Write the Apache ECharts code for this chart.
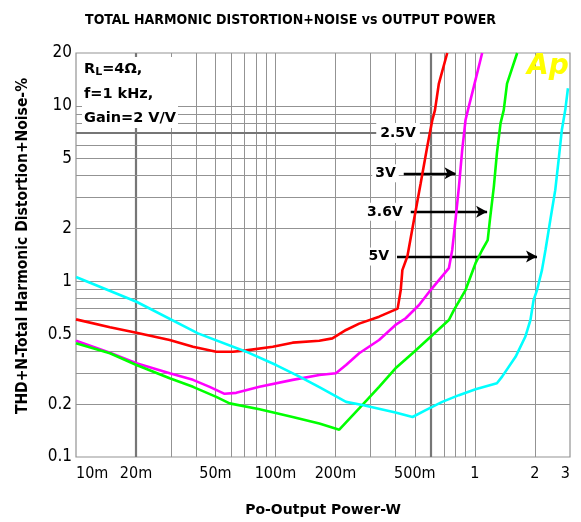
<!DOCTYPE html>
<html>
<head>
<meta charset="utf-8">
<script src="https://cdn.jsdelivr.net/npm/echarts@6/dist/echarts.min.js"></script>
<style>
  html, body { margin: 0; padding: 0; background: #fff; }
  #chart { width: 581px; height: 522px; }
</style>
</head>
<body>
<div id="chart"></div>
<script>
// THD+N (%) versus output power (W), RL = 4 ohm, f = 1 kHz, gain = 2 V/V

// Supply 2.5 V
const power_2v5 = [0.01, 0.0148, 0.0201, 0.0295, 0.0386, 0.0505, 0.0612, 0.0713, 0.097, 0.122, 0.166, 0.193, 0.226, 0.263, 0.331, 0.41, 0.425, 0.433, 0.459, 0.495, 0.535, 0.577, 0.612, 0.631, 0.66, 0.727];
const thdn_2v5  = [0.608, 0.548, 0.51, 0.464, 0.425, 0.398, 0.398, 0.405, 0.425, 0.448, 0.459, 0.474, 0.529, 0.575, 0.63, 0.70, 0.893, 1.16, 1.39, 2.24, 3.62, 5.85, 8.3, 9.46, 13.4, 20];

// Supply 3 V
const power_3v = [0.01, 0.0148, 0.0201, 0.0295, 0.0386, 0.0468, 0.0556, 0.0636, 0.0832, 0.122, 0.166, 0.201, 0.226, 0.263, 0.331, 0.40, 0.45, 0.525, 0.60, 0.741, 0.77, 0.80, 0.832, 0.864, 0.898, 0.923, 0.989, 1.088];
const thdn_3v  = [0.459, 0.392, 0.342, 0.30, 0.275, 0.251, 0.229, 0.232, 0.251, 0.275, 0.293, 0.30, 0.334, 0.39, 0.464, 0.565, 0.617, 0.734, 0.893, 1.19, 1.51, 2.24, 3.46, 5.6, 8.3, 9.46, 12.9, 20];

// Supply 3.6 V
const power_3v6 = [0.01, 0.0148, 0.0201, 0.0295, 0.0386, 0.0505, 0.0589, 0.0832, 0.122, 0.166, 0.209, 0.263, 0.331, 0.40, 0.487, 0.60, 0.741, 0.785, 0.898, 1.008, 1.088, 1.16, 1.19, 1.245, 1.29, 1.345, 1.396, 1.45, 1.63];
const thdn_3v6  = [0.444, 0.39, 0.334, 0.281, 0.251, 0.22, 0.202, 0.187, 0.169, 0.155, 0.143, 0.189, 0.251, 0.32, 0.39, 0.484, 0.603, 0.687, 0.893, 1.27, 1.51, 1.72, 2.24, 3.46, 5.36, 7.95, 9.46, 13.4, 20];

// Supply 5 V
const power_5v = [0.01, 0.0201, 0.0409, 0.0713, 0.1008, 0.132, 0.166, 0.226, 0.273, 0.40, 0.487, 0.567, 0.686, 0.832, 1.008, 1.29, 1.37, 1.60, 1.79, 1.90, 1.97, 2.05, 2.17, 2.26, 2.39, 2.53, 2.63, 2.73, 2.84, 2.93];
const thdn_5v  = [1.06, 0.766, 0.506, 0.398, 0.334, 0.287, 0.250, 0.206, 0.198, 0.179, 0.169, 0.185, 0.206, 0.225, 0.243, 0.263, 0.287, 0.372, 0.484, 0.603, 0.783, 0.893, 1.16, 1.51, 2.24, 3.31, 4.91, 7.28, 9.46, 12.6];

// Axis ticks and labels
const xTicks = [0.01, 0.02, 0.05, 0.1, 0.2, 0.5, 1, 2, 3];
const xTickLabels = ['10m', '20m', '50m', '100m', '200m', '500m', '1', '2', '3'];
const yTicks = [0.1, 0.2, 0.5, 1, 2, 5, 10, 20];
const yTickLabels = ['0.1', '0.2', '0.5', '1', '2', '5', '10', '20'];

// Log grid lines (1-2-...-9 per decade), with heavier reference lines
const xGridLines = [0.02, 0.03, 0.04, 0.05, 0.06, 0.07, 0.08, 0.09, 0.1, 0.2, 0.3, 0.4, 0.5, 0.6, 0.7, 0.8, 0.9, 1, 2];
const yGridLines = [0.2, 0.3, 0.4, 0.5, 0.6, 0.7, 0.8, 0.9, 1, 2, 3, 4, 5, 6, 7, 8, 9, 10];
const xHeavy = [0.02, 0.6];
const yHeavy = [7];

// Supply-voltage callouts: label, arrow start/end power, THD+N level
const callouts = [
  { text: '3V',   from: 0.44,  to: 0.80, level: 4.13 },
  { text: '3.6V', from: 0.477, to: 1.152, level: 2.49 },
  { text: '5V',   from: 0.407, to: 2.05, level: 1.386 }
];
const tagOnly = { text: '2.5V', at: 0.412, level: 7.0 };

const narrow = '"DejaVu Sans Condensed", "Liberation Sans Narrow", "DejaVu Sans", sans-serif';
const boldFace = '"DejaVu Sans", Verdana, sans-serif';

function zip(xs, ys) { return xs.map((x, i) => [x, ys[i]]); }
function lookup(ticks, labels, v) {
  const i = ticks.findIndex(t => Math.abs(t - v) / t < 1e-6);
  return i < 0 ? '' : labels[i];
}

const gridStyle = { color: '#939393', width: 1, type: 'solid' };
const heavyStyle = { color: '#767676', width: 2.2, type: 'solid' };

const gridMarks = [];
xGridLines.forEach(v => gridMarks.push({ xAxis: v, lineStyle: xHeavy.includes(v) ? heavyStyle : gridStyle }));
yGridLines.forEach(v => gridMarks.push({ yAxis: v, lineStyle: yHeavy.includes(v) ? heavyStyle : gridStyle }));

function curve(name, color, xs, ys) {
  return {
    name, type: 'line', data: zip(xs, ys), z: 5,
    showSymbol: false, symbol: 'none', smooth: false,
    lineStyle: { color, width: 2.6 }, itemStyle: { color },
    clip: true, silent: true
  };
}

const chart = echarts.init(document.getElementById('chart'), null, { renderer: 'canvas' });

chart.setOption({
  animation: false,
  backgroundColor: '#fff',
  title: {
    text: 'TOTAL HARMONIC DISTORTION+NOISE vs OUTPUT POWER',
    left: 'center', top: 8,
    textStyle: { fontFamily: narrow, fontWeight: 'bold', fontSize: 14, color: '#000' }
  },
  grid: {
    left: 76, right: 11, top: 53, bottom: 65,
    show: true, borderColor: '#939393', borderWidth: 1.2, backgroundColor: '#fff'
  },
  xAxis: {
    type: 'log', logBase: 10, min: 0.01, max: 3,
    axisLine: { show: false }, axisTick: { show: false }, splitLine: { show: false },
    axisLabel: {
      customValues: xTicks,
      formatter: v => lookup(xTicks, xTickLabels, v),
      alignMinLabel: 'left', alignMaxLabel: 'right',
      fontFamily: narrow, fontSize: 16, color: '#000', margin: 9
    },
    name: 'Po-Output Power-W', nameLocation: 'middle', nameGap: 46,
    nameTextStyle: { fontFamily: boldFace, fontWeight: 'bold', fontSize: 14, color: '#000' }
  },
  yAxis: {
    type: 'log', logBase: 10, min: 0.1, max: 20,
    axisLine: { show: false }, axisTick: { show: false }, splitLine: { show: false },
    axisLabel: {
      customValues: yTicks,
      formatter: v => lookup(yTicks, yTickLabels, v),
      fontFamily: narrow, fontSize: 17, color: '#000', margin: 4
    },
    name: 'THD+N-Total Harmonic Distortion+Noise-%', nameLocation: 'middle', nameGap: 45,
    nameTextStyle: { fontFamily: narrow, fontWeight: 'bold', fontSize: 15.5, color: '#000', padding: [0, 0, 0, 18] }
  },
  series: [
    {
      name: 'grid', type: 'line', data: [], z: 1, silent: true,
      markLine: { silent: true, symbol: ['none', 'none'], label: { show: false }, data: gridMarks, animation: false }
    },
    curve('2.5V', '#ff0000', power_2v5, thdn_2v5),
    curve('3V', '#ff00ff', power_3v, thdn_3v),
    curve('3.6V', '#00ff00', power_3v6, thdn_3v6),
    curve('5V', '#00ffff', power_5v, thdn_5v),
    {
      name: 'callouts', type: 'line', data: [], z: 8, silent: true,
      markLine: {
        silent: true, animation: false,
        symbol: ['none', 'arrow'], symbolSize: [9, 11],
        lineStyle: { color: '#000', width: 2.4, type: 'solid' },
        label: {
          show: true, position: 'start', distance: 5,
          fontFamily: boldFace, fontWeight: 'bold', fontSize: 14, color: '#000',
          backgroundColor: '#fff', padding: [2, 3, 2, 3]
        },
        data: callouts.map(c => [
          { coord: [c.from, c.level], label: { formatter: c.text } },
          { coord: [c.to, c.level] }
        ])
      },
      markPoint: {
        silent: true, animation: false,
        symbol: 'circle', symbolSize: 1, itemStyle: { color: 'rgba(0,0,0,0)' },
        label: {
          show: true, position: 'inside',
          fontFamily: boldFace, fontWeight: 'bold', fontSize: 14, color: '#000',
          backgroundColor: '#fff', padding: [3, 4, 3, 4], formatter: tagOnly.text
        },
        data: [{ coord: [tagOnly.at, tagOnly.level] }]
      }
    }
  ],
  graphic: [
    {
      type: 'rect', z: 20,
      shape: { x: 82, y: 57, width: 96, height: 71 },
      style: { fill: '#fff' }
    },
    {
      type: 'text', z: 21, left: 84, top: 57,
      style: {
        text: 'R{sub|L}=4Ω,\nf=1 kHz,\nGain=2 V/V',
        fontFamily: boldFace, fontWeight: 'bold', fontSize: 14.5, lineHeight: 24.5, fill: '#000',
        rich: { sub: { fontFamily: boldFace, fontWeight: 'bold', fontSize: 11, padding: [5, 0, 0, 0] } }
      }
    },
    {
      type: 'text', z: 21, left: 527, top: 53,
      style: {
        text: 'Ap', fontFamily: boldFace, fontWeight: 'bold', fontStyle: 'italic',
        fontSize: 28, fill: '#ffff00'
      }
    }
  ]
});
</script>
</body>
</html>
